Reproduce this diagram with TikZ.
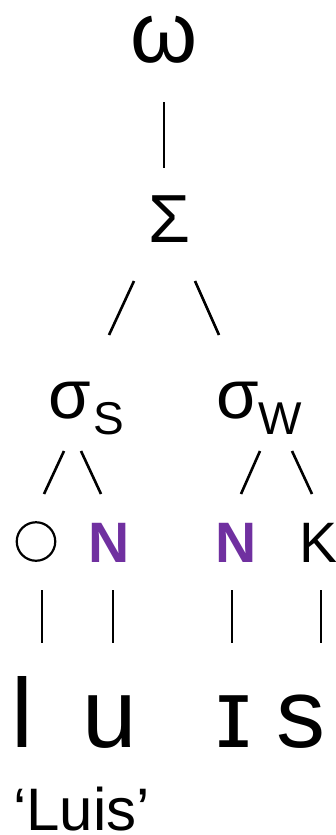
\documentclass[tikz,border=0pt]{standalone}
\usepackage{fontspec}
\setmainfont{Liberation Sans}
\definecolor{nucl}{RGB}{112,48,160}
\tikzset{
  lbl/.style={inner sep=0pt, outer sep=0pt, anchor=base},
  link/.style={line width=2.6pt},
}
\newcommand{\fsz}[1]{\fontsize{#1}{#1}\selectfont}
\begin{document}
\begin{tikzpicture}[x=1pt,y=-1pt]
\useasboundingbox (0,0) rectangle (336,835);
% labels
\node[lbl] (omega) at (164,62) {\fsz{86}\smash{ω}};
\node[lbl] (foot) at (169.5,242) {\fsz{68}Σ};
\node[lbl,anchor=base west] (ss) at (48,418) {\fsz{69}σ\kern2.5pt\raisebox{-16pt}{\fsz{46}S}};
\node[lbl,anchor=base west] (sw) at (216,418) {\fsz{69}σ\raisebox{-16pt}{\fsz{46}W}};
\node[draw,circle,line width=2.2pt,minimum size=38.5pt,inner sep=0pt] (ons) at (36,541.5) {};
\node[lbl,text=nucl] (n1) at (109.5,562) {\fsz{57}\bfseries N};
\node[lbl,text=nucl] (n2) at (236,562) {\fsz{57}\bfseries N};
\node[lbl] (coda) at (318.5,562) {\fsz{57}K};
\node[lbl] (sl) at (22.5,747) {\fsz{98}l};
\node[lbl] (su) at (110,747) {\fsz{98}u};
\node[lbl] (si) at (233.5,747) {\fsz{98}ɪ};
\node[lbl] (sz) at (301,747) {\fsz{98}s};
\node[lbl,anchor=base west] (gloss) at (13,830) {\fsz{60}\smash{‘Luis’}};
% connector end points
\coordinate (a1) at (164,102); \coordinate (a2) at (164,168);
\coordinate (b1) at (134,281); \coordinate (b2) at (109,335);
\coordinate (c1) at (195,281); \coordinate (c2) at (219,335);
\coordinate (d1) at (64,451);  \coordinate (d2) at (44,494);
\coordinate (e1) at (81,451);  \coordinate (e2) at (101,494);
\coordinate (f1) at (260,451); \coordinate (f2) at (241,494);
\coordinate (g1) at (292,451); \coordinate (g2) at (312,494);
\coordinate (h1) at (42,590);  \coordinate (h2) at (42,643);
\coordinate (i1) at (113,590); \coordinate (i2) at (113,643);
\coordinate (j1) at (232,590); \coordinate (j2) at (232,643);
\coordinate (k1) at (321,590); \coordinate (k2) at (321,643);
\foreach \p/\q in {a1/a2,b1/b2,c1/c2,d1/d2,e1/e2,f1/f2,g1/g2,h1/h2,i1/i2,j1/j2,k1/k2}
  \draw[link] (\p) -- (\q);
\end{tikzpicture}
\end{document}
